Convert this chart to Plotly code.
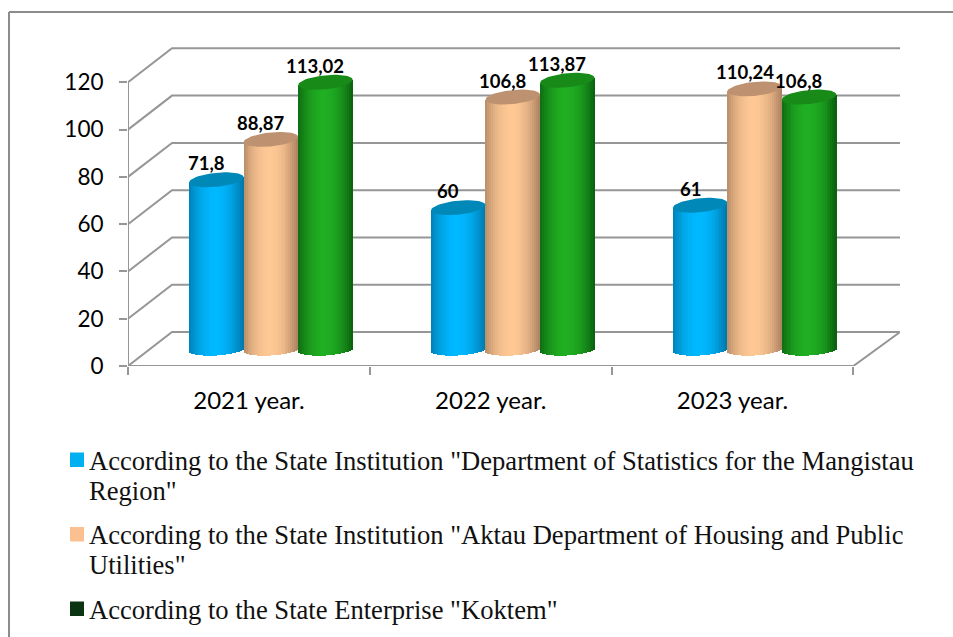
import numpy as np
import plotly.graph_objects as go

years = ["2021 year.", "2022 year.", "2023 year."]
statistics_dept = [71.8, 60, 61]
housing_dept = [88.87, 106.8, 110.24]
koktem = [113.02, 113.87, 106.8]
y_ticks = [0, 20, 40, 60, 80, 100, 120]

legend_lines = [
    ['According to the State Institution "Department of Statistics for the Mangistau', 'Region"'],
    ['According to the State Institution "Aktau Department of Housing and Public', 'Utilities"'],
    ['According to the State Enterprise "Koktem"'],
]
legend_colors = ["#00B0F0", "#FAC090", "#0B3410"]
legend_baselines = [468, 542.5, 617]
LEGEND_LINE_STEP = 30

W, H = 953, 637
# plot rectangle in pixels; front wall starts at (128, 366)
LEFT, RIGHT, BOTTOM, TOP = 128, 900, 366, 47
PX_X = 241.8   # pixels per category
PX_Y = 2.364   # pixels per value unit
DEPTH_X, DEPTH_Y = 44, 34      # full depth of the floor, in pixels
MID_X, MID_Y = 22, 16.5        # bars stand half way along the depth

x_span = (RIGHT - LEFT) / PX_X
y_span = (BOTTOM - TOP) / PX_Y
dx, dy = DEPTH_X / PX_X, DEPTH_Y / PX_Y

series = [
    (statistics_dept, (0, 184, 255), (0, 116, 166), "#0088B8"),
    (housing_dept, (254, 200, 148), (170, 128, 96), "#BE9270"),
    (koktem, (32, 174, 34), (10, 94, 14), "#178A18"),
]
BAR_W = 54.5 / PX_X
RY_TOP = 7 / PX_Y
RY_BOT = 6 / PX_Y
TILT = 2.6 / PX_Y
N_STRIPS = 28

fig = go.Figure()
GRID = dict(color="#969696", width=2)

# back wall gridlines with their slanted links to the front wall
for v in y_ticks[1:]:
    fig.add_trace(go.Scatter(x=[0, dx, x_span], y=[v, v + dy, v + dy], mode="lines",
                             line=GRID, showlegend=False, hoverinfo="skip", cliponaxis=False))
# floor outline and front vertical edge
fig.add_trace(go.Scatter(x=[0, dx, x_span, 3, 0, 0], y=[0, dy, dy, 0, 0, 120], mode="lines",
                         line=GRID, showlegend=False, hoverinfo="skip", cliponaxis=False))

centers = np.array([0.5, 1.5, 2.5])
for i, (vals, bright, dark, cap) in enumerate(series):
    vals = np.array(vals, dtype=float)
    cx = centers + (i - 1) * BAR_W
    # shaded body, built from narrow vertical strips
    edges = np.linspace(-1, 1, N_STRIPS + 1)
    for a, b in zip(edges[:-1], edges[1:]):
        u = (a + b) / 2
        t = min(abs(u + 0.05) / 1.05, 1) ** 2.0
        col = [round(bright[k] + (dark[k] - bright[k]) * t) for k in range(3)]
        base = -RY_BOT * np.sqrt(max(1 - u * u, 0)) + TILT * u * 0.6
        tops = vals + TILT * u
        fig.add_trace(go.Bar(
            x=cx, y=tops - base, base=[base] * 3,
            width=(b - a) / 2 * BAR_W * 1.15,
            marker=dict(color=f"rgb({col[0]},{col[1]},{col[2]})", line=dict(width=0)),
            xaxis="x2", yaxis="y2", showlegend=False, hoverinfo="skip",
            offset=u / 2 * BAR_W - (b - a) / 4 * BAR_W,
        ))
    # elliptical cap, sheared slightly upward to the right
    ang = np.linspace(0, 2 * np.pi, 61)
    xs, ys = [], []
    for c, v in zip(cx, vals):
        xs += list(c + BAR_W / 2 * np.cos(ang)) + [None]
        ys += list(v + RY_TOP * np.sin(ang) + TILT * np.cos(ang)) + [None]
    fig.add_trace(go.Scatter(x=xs, y=ys, mode="lines", fill="toself", fillcolor=cap,
                             line=dict(width=0, color=cap), xaxis="x2", yaxis="y2",
                             showlegend=False, hoverinfo="skip", cliponaxis=False))

annotations = []
for i, (vals, *_rest) in enumerate(series):
    for g, v in enumerate(vals):
        annotations.append(dict(
            x=centers[g] + (i - 1) * BAR_W, y=v, xref="x2", yref="y2",
            text=f"<b>{str(v).replace('.', ',')}</b>", showarrow=False,
            xanchor="center", yanchor="middle", xshift=-10, yshift=16.5,
            font=dict(family="Lato", size=18.5, color="#000000"),
        ))

shapes = [
    dict(type="line", xref="paper", yref="paper", x0=9 / W, x1=9 / W, y0=0, y1=1 - 12 / H,
         line=dict(color="#8C8C8C", width=2)),
    dict(type="line", xref="paper", yref="paper", x0=9 / W, x1=1, y0=1 - 12 / H, y1=1 - 12 / H,
         line=dict(color="#8C8C8C", width=2)),
]
for lines, color, baseline in zip(legend_lines, legend_colors, legend_baselines):
    shapes.append(dict(type="rect", xref="paper", yref="paper", x0=70 / W, x1=84 / W,
                       y0=1 - (baseline - 1) / H, y1=1 - (baseline - 15.5) / H,
                       fillcolor=color, line=dict(width=0)))
    for k, line in enumerate(lines):
        annotations.append(dict(
            x=89 / W, y=1 - (baseline + k * LEGEND_LINE_STEP - 7.5) / H, xref="paper", yref="paper",
            text=line, showarrow=False, xanchor="left", yanchor="middle", align="left",
            xshift=-2, font=dict(family="Liberation Serif", size=26.6, color="#111111"),
        ))

fig.update_layout(
    width=W, height=H, margin=dict(l=0, r=0, t=0, b=0, autoexpand=False), autosize=False,
    paper_bgcolor="white", plot_bgcolor="rgba(0,0,0,0)",
    barmode="overlay", bargap=0, showlegend=False,
    shapes=shapes, annotations=annotations,
    xaxis=dict(
        domain=[LEFT / W, RIGHT / W], range=[0, x_span], showgrid=False, zeroline=False,
        automargin=False,
        tickmode="array", tickvals=centers, ticktext=years, ticks="", ticklabelstandoff=18,
        tickfont=dict(family="Lato", size=24, color="#000000"),
        minor=dict(tickmode="array", tickvals=[0, 1, 2, 3], ticks="outside", ticklen=8,
                   tickcolor="#969696", tickwidth=2, showgrid=False),
    ),
    yaxis=dict(
        domain=[1 - BOTTOM / H, 1 - TOP / H], range=[0, y_span], showgrid=False, zeroline=False,
        automargin=False,
        tickmode="array", tickvals=y_ticks, ticks="outside", ticklen=8,
        tickcolor="#969696", tickwidth=2, ticklabelstandoff=11,
        tickfont=dict(family="Lato", size=22.5, color="#000000"),
    ),
    # second pair of axes: same scales, shifted to the middle of the floor depth
    xaxis2=dict(domain=[LEFT / W, RIGHT / W], overlaying="x", visible=False, automargin=False,
                range=[-MID_X / PX_X, x_span - MID_X / PX_X]),
    yaxis2=dict(domain=[1 - BOTTOM / H, 1 - TOP / H], overlaying="y", visible=False, automargin=False,
                range=[-MID_Y / PX_Y, y_span - MID_Y / PX_Y]),
)

fig.write_html("out.html")
